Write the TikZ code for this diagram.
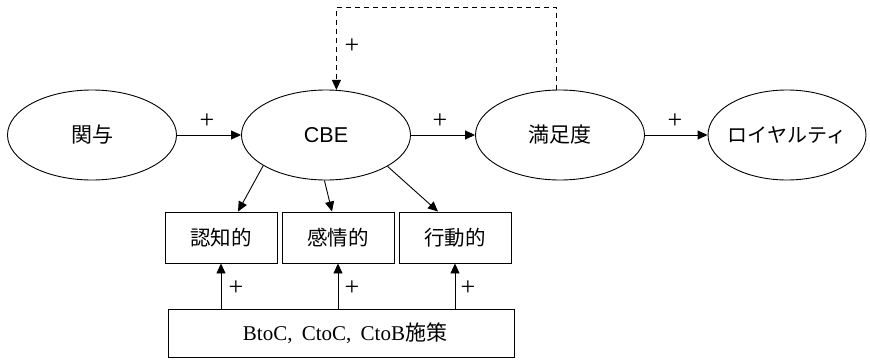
\documentclass[tikz,border=0pt]{standalone}
\usepackage{fontspec}
\setmainfont{Liberation Serif}
\setsansfont{Liberation Sans}
\newfontfamily\jp{Noto Sans CJK JP}
\usetikzlibrary{arrows.meta,shapes.geometric}
\begin{document}
\begin{tikzpicture}[x=1pt,y=-1pt,
 oval/.style={ellipse,draw,line width=0.9pt,minimum width=169pt,minimum height=90pt,inner sep=0pt,font=\fontsize{21}{21}\selectfont\jp},
 dimbox/.style={draw,line width=0.9pt,minimum width=112pt,minimum height=51pt,inner sep=0pt,font=\fontsize{20.5}{21}\selectfont\jp},
 arr/.style={line width=0.9pt,-{Triangle[length=10pt,width=9pt]}},
 plus/.style={inner sep=0pt,font=\fontsize{26}{26}\selectfont}]
\useasboundingbox (0,0) rectangle (870,361);
% ellipses
\node[oval] (kanyo) at (92,135) {関与};
\node[oval] (cbe) at (326,135) {\sffamily\fontsize{21.5}{21.5}\selectfont CBE};
\node[oval] (manzoku) at (560,135) {満足度};
\node[oval,minimum width=158pt,inner xsep=-12pt,font=\fontsize{20}{20}\selectfont\jp] (loyal) at (787,135) {ロイヤルティ};
% boxes
\node[dimbox] (ninchi) at (221,237.5) {認知的};
\node[dimbox] (kanjou) at (338,237.5) {感情的};
\node[dimbox] (koudou) at (455,237.5) {行動的};
\node[draw,line width=0.9pt,minimum width=346pt,minimum height=48pt,inner sep=0pt,font=\fontsize{21}{21}\selectfont] (sesaku) at (341,333) {\hspace{8pt}BtoC,\hspace{4pt} CtoC,\hspace{4pt} CtoB{\jp 施策}};
% main chain
\draw[arr] (kanyo) -- (cbe);
\draw[arr] (cbe) -- (manzoku);
\draw[arr] (manzoku) -- (loyal);
% feedback
\draw[arr,dash pattern=on 5pt off 4pt] (manzoku.95) -- (manzoku.95 |- 0,7) -| (cbe.77);
% CBE to dimensions
\draw[arr] (cbe.206) -- ([xshift=17pt]ninchi.north);
\draw[arr] (cbe.268) -- ([xshift=-6pt]kanjou.north);
\draw[arr] (cbe.333) -- ([xshift=-17pt]koudou.north);
% measures
\draw[arr] (sesaku.north -| ninchi.south) -- (ninchi.south);
\draw[arr] (sesaku.north -| kanjou.south) -- (kanjou.south);
\draw[arr] (sesaku.north -| koudou.south) -- (koudou.south);
% plus labels
\node[plus] (p1) at (207,121) {+};
\node[plus] (p2) at (440,121) {+};
\node[plus] (p3) at (675,121) {+};
\node[plus] (p4) at (352,46) {+};
\node[plus] (p5) at (236,288) {+};
\node[plus] (p6) at (352,288) {+};
\node[plus] (p7) at (468,288) {+};
\end{tikzpicture}
\end{document}
